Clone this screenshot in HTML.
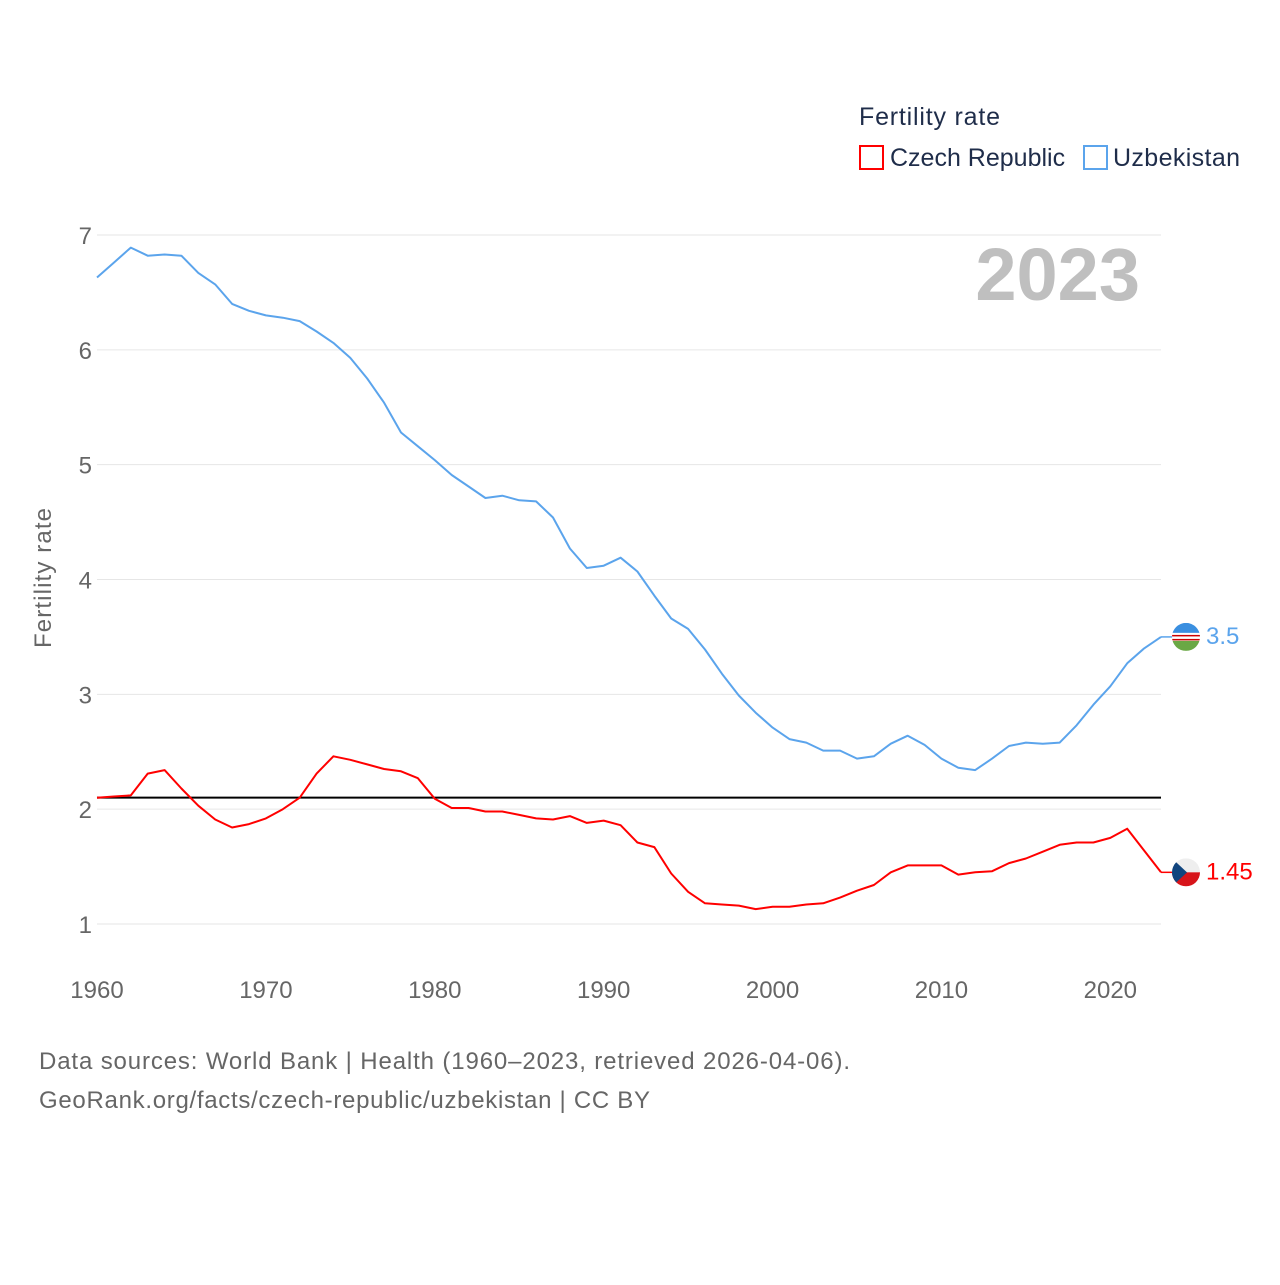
<!DOCTYPE html>
<html><head><meta charset="utf-8"><style>
body{margin:0;background:#fff;font-family:"Liberation Sans",sans-serif;}
svg text{font-family:"Liberation Sans",sans-serif;}
</style></head><body>
<svg width="1280" height="1280" viewBox="0 0 1280 1280" xmlns="http://www.w3.org/2000/svg">
<rect width="1280" height="1280" fill="#fff"/>
<g>
<text x="859" y="125" font-size="25" fill="#1f2d4a" textLength="141">Fertility rate</text>
<rect x="860" y="146" width="23" height="23" fill="none" stroke="#f00" stroke-width="2"/>
<text x="890" y="166" font-size="25" fill="#1f2d4a">Czech Republic</text>
<rect x="1084" y="146" width="23" height="23" fill="none" stroke="#5ba4ec" stroke-width="2"/>
<text x="1113" y="166" font-size="25" fill="#1f2d4a" textLength="127">Uzbekistan</text>
</g>
<text x="1140" y="300" font-size="74" font-weight="bold" fill="#bfbfbf" text-anchor="end">2023</text>
<g id="grid"></g>
<g id="yticks"></g>
<g id="xticks"></g>
<text transform="translate(51,578) rotate(-90)" font-size="24" fill="#666" text-anchor="middle" textLength="140">Fertility rate</text>
<g id="series"></g>
<text x="39" y="1069" font-size="24" fill="#666" textLength="811">Data sources: World Bank | Health (1960–2023, retrieved 2026-04-06).</text>
<text x="39" y="1108" font-size="24" fill="#666" textLength="611">GeoRank.org/facts/czech-republic/uzbekistan | CC BY</text>
</svg>
<script>
const years=[];for(let y=1960;y<=2023;y++)years.push(y);
const uzbekistan=[6.63,6.76,6.89,6.82,6.83,6.82,6.67,6.57,6.40,6.34,6.30,6.28,6.25,6.16,6.06,5.93,5.75,5.54,5.28,5.16,5.04,4.91,4.81,4.71,4.73,4.69,4.68,4.54,4.27,4.10,4.12,4.19,4.07,3.86,3.66,3.57,3.39,3.18,2.99,2.84,2.71,2.61,2.58,2.51,2.51,2.44,2.46,2.57,2.64,2.56,2.44,2.36,2.34,2.44,2.55,2.58,2.57,2.58,2.73,2.91,3.07,3.27,3.40,3.50];
const czech=[2.10,2.11,2.12,2.31,2.34,2.18,2.03,1.91,1.84,1.87,1.92,2.00,2.10,2.31,2.46,2.43,2.39,2.35,2.33,2.27,2.09,2.01,2.01,1.98,1.98,1.95,1.92,1.91,1.94,1.88,1.90,1.86,1.71,1.67,1.44,1.28,1.18,1.17,1.16,1.13,1.15,1.15,1.17,1.18,1.23,1.29,1.34,1.45,1.51,1.51,1.51,1.43,1.45,1.46,1.53,1.57,1.63,1.69,1.71,1.71,1.75,1.83,1.64,1.45];
const yTicks=[1,2,3,4,5,6,7];
const xTicks=[1960,1970,1980,1990,2000,2010,2020];
const replacementRate=2.1;
const lastLabels=["3.5","1.45"];
const NS="http://www.w3.org/2000/svg";
const X=v=>97+(v-1960)*(1161-97)/63;
const Y=v=>924-(v-1)*(924-235)/6;
function mk(tag,attrs,parent,txt){const e=document.createElementNS(NS,tag);for(const k in attrs)e.setAttribute(k,attrs[k]);if(txt!==undefined)e.textContent=txt;parent.appendChild(e);return e;}
const grid=document.getElementById('grid'),yt=document.getElementById('yticks'),xt=document.getElementById('xticks'),ser=document.getElementById('series');
yTicks.forEach(t=>{
 const l=mk('line',{x1:97,x2:1161,y1:Y(t),y2:Y(t),stroke:'#e6e6e6','stroke-width':1},grid);
 
 
 const tx=mk('text',{x:92,y:Y(t)+9,'font-size':24,fill:'#666','text-anchor':'end'},yt,String(t));
 
 
});
xTicks.forEach(t=>{
 const tx=mk('text',{x:X(t),y:998,'font-size':24,fill:'#666','text-anchor':'middle'},xt,String(t));
 
 
});
const ref=mk('line',{x1:97,x2:1161,y1:Y(replacementRate),y2:Y(replacementRate),stroke:'#000','stroke-width':2},ser);


function line(vals,color,name){
 const d=vals.map((v,i)=>(i?'L':'M')+X(years[i]).toFixed(1)+','+Y(v).toFixed(1)).join('');
 const p=mk('path',{d:d,fill:'none',stroke:color,'stroke-width':2,'stroke-linejoin':'round'},ser);
 
 
}
line(uzbekistan,'#5ba4ec','uzbekistan-line');
line(czech,'#ff0000','czech-line');
function endMarker(vals,color,label,name,flag){
 const v=vals[vals.length-1],x=X(years[years.length-1]),y=Y(v);
 const g=mk('g',{},ser);
 
 
 mk('line',{x1:x,x2:x+12,y1:y,y2:y,stroke:color,'stroke-width':1.5},g);
 const cx=x+25;
 const cp=mk('clipPath',{id:'c'+name},g);mk('circle',{cx:cx,cy:y,r:14},cp);
 const fg=mk('g',{'clip-path':'url(#c'+name+')'},g);
 if(flag==='uz'){
  mk('rect',{x:cx-14,y:y-14,width:28,height:10,fill:'#3a8fe0'},fg);
  mk('rect',{x:cx-14,y:y-4,width:28,height:8,fill:'#fff'},fg);
  mk('rect',{x:cx-14,y:y-2,width:28,height:1.5,fill:'#c00'},fg);
  mk('rect',{x:cx-14,y:y+2,width:28,height:1.5,fill:'#c00'},fg);
  mk('rect',{x:cx-14,y:y+4,width:28,height:10,fill:'#6aa845'},fg);
 }else{
  mk('rect',{x:cx-14,y:y-14,width:28,height:14,fill:'#eee'},fg);
  mk('rect',{x:cx-14,y:y,width:28,height:14,fill:'#d7141a'},fg);
  mk('polygon',{points:(cx-14)+','+(y-14)+' '+(cx+1)+','+y+' '+(cx-14)+','+(y+14),fill:'#11457e'},fg);
 }
 mk('text',{x:x+45,y:y+7,'font-size':24,fill:color},g,label);
}
endMarker(uzbekistan,'#5ba4ec',lastLabels[0],'uzbekistan-end-label','uz');
endMarker(czech,'#ff0000',lastLabels[1],'czech-end-label','cz');
</script>
</body></html>
